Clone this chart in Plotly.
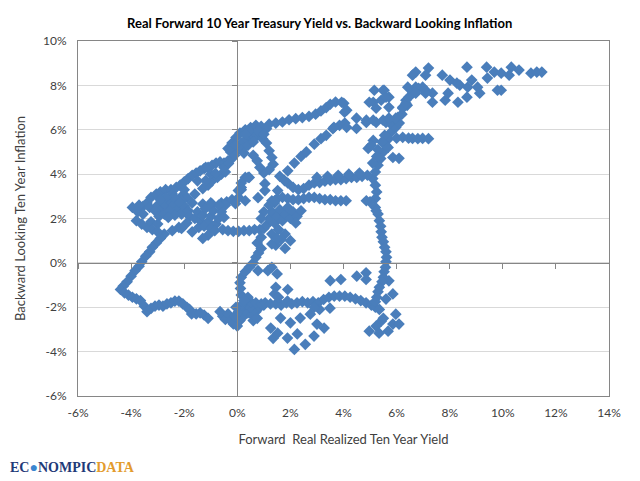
import plotly.graph_objects as go

# --- DATA (forward real yield %, backward looking inflation %) ---
LOW_LOOP = [
    (-2.75, 1.3), (-2.9, 1.1), (-3.05, 0.9), (-3.2, 0.7), (-3.3, 0.5), (-3.45, 0.3),
    (-3.6, 0.05), (-3.7, -0.15), (-3.85, -0.35), (-4.0, -0.6), (-4.15, -0.85),
    (-4.3, -1.05), (-4.4, -1.2), (-4.25, -1.35), (-4.1, -1.45), (-3.95, -1.55),
    (-3.8, -1.62), (-3.65, -1.7), (-3.5, -1.95), (-3.4, -2.2), (-3.25, -2.05),
    (-3.1, -1.95), (-2.95, -1.9), (-2.8, -1.95), (-2.65, -1.85), (-2.5, -1.8),
    (-2.35, -1.72), (-2.2, -1.72), (-2.05, -1.85), (-1.9, -2.0), (-1.8, -2.1),
    (-1.72, -2.3), (-1.55, -2.3), (-1.4, -2.25), (-1.25, -2.35), (-1.1, -2.5),
]

LOW_CLUSTER = [
    (-0.65, -2.2), (-0.55, -2.4), (-0.45, -2.55), (-0.35, -2.3), (-0.25, -2.6),
    (-0.15, -2.75), (0.0, -2.85), (0.1, -2.6), (0.2, -2.45), (-0.1, -2.4),
    (0.05, -2.2), (0.25, -2.1), (0.4, -2.25), (0.55, -2.35), (0.7, -2.2),
    (0.85, -2.0), (1.0, -1.9), (0.5, -2.0), (0.35, -1.85), (0.15, -1.9),
    (-0.05, -2.0), (0.6, -2.6), (0.75, -2.5), (1.26, -2.94), (1.52, -3.17),
    (1.89, -3.39), (2.26, -3.2), (2.15, -3.9), (2.56, -3.67), (2.89, -3.3),
    (2.37, -2.49), (2.75, -2.31), (3.0, -2.76), (3.27, -2.94), (3.49, -2.04),
    (1.63, -2.49), (1.89, -1.72), (2.0, -2.7), (1.35, -3.4),
]

LOW_BAND = [
    (0.5, -1.75), (0.7, -1.8), (0.9, -1.85), (1.05, -1.8), (1.25, -1.85),
    (1.45, -1.85), (1.65, -1.9), (1.85, -1.8), (2.05, -1.85), (2.25, -1.8),
    (2.45, -1.75), (2.65, -1.8), (2.85, -1.75), (3.05, -1.8), (3.25, -1.65),
    (3.45, -1.55), (3.65, -1.5), (3.85, -1.5), (4.05, -1.5), (4.25, -1.55),
    (4.45, -1.62), (4.65, -1.7), (4.85, -1.8), (5.05, -1.9), (5.2, -2.0),
    (5.35, -2.1), (3.5, -0.8), (3.9, -0.75), (4.5, -0.6), (4.85, -0.45),
    (4.85, -0.75), (3.1, -2.1), (2.9, -2.0),
]

RIGHT_LOW = [
    (5.42, -2.63), (5.23, -2.85), (4.97, -3.08), (5.34, -3.17), (5.68, -3.08),
    (5.86, -2.76), (6.09, -2.76), (5.97, -2.31), (5.6, -1.63), (5.86, -1.4),
    (5.71, -0.81), (5.5, -2.5),
]

RIGHT_COLUMN = [
    (5.1, 3.8), (5.2, 3.5), (5.25, 3.2), (5.2, 2.9), (5.0, 2.75), (5.2, 2.5),
    (5.3, 2.2), (5.35, 1.9), (5.4, 1.65), (5.42, 1.4), (5.45, 1.15), (5.5, 0.95),
    (5.55, 0.7), (5.6, 0.5), (5.62, 0.25), (5.6, 0.05), (5.58, -0.2), (5.53, -0.4),
    (5.5, -0.65), (5.45, -0.85), (5.35, -1.1), (5.3, -1.3), (5.25, -1.55),
    (5.2, -1.75), (4.86, 2.8), (5.23, 2.35),
]

MID_BAND = [
    (1.9, 3.6), (2.1, 3.4), (2.3, 3.3), (2.5, 3.35), (2.7, 3.5), (2.9, 3.6),
    (3.1, 3.62), (3.3, 3.68), (3.5, 3.72), (3.7, 3.75), (3.9, 3.75), (4.1, 3.8),
    (4.3, 3.85), (4.5, 3.85), (4.7, 3.9), (4.9, 3.95), (3.0, 3.85), (3.4, 3.9),
    (3.8, 3.95), (4.2, 4.0), (4.6, 4.05),
    (1.3, 2.8), (1.5, 2.9), (1.7, 2.95), (1.9, 2.9), (2.1, 2.85), (2.3, 2.85),
    (2.5, 2.9), (2.7, 2.95), (2.9, 2.95), (3.1, 2.9), (3.3, 2.85), (3.5, 2.85),
    (3.7, 2.8), (3.9, 2.8), (4.1, 2.8),
]

DIAGONAL = [
    (1.6, 3.9), (1.9, 4.15), (2.15, 4.5), (2.4, 4.8), (2.6, 5.0), (2.9, 5.35),
    (3.15, 5.6), (3.35, 5.75), (3.6, 6.05), (3.85, 6.2), (4.05, 6.3),
]

UPPER_BAND = [
    (1.2, 6.25), (1.45, 6.3), (1.7, 6.35), (1.95, 6.45), (2.2, 6.5), (2.45, 6.55),
    (2.7, 6.6), (2.95, 6.7), (3.15, 6.85), (3.35, 7.0), (3.5, 7.15), (3.7, 7.25),
    (3.93, 7.24), (4.04, 6.79),
]

TOP_BLOB = [
    (-0.35, 5.15), (-0.2, 5.4), (-0.05, 5.65), (0.1, 5.85), (0.3, 6.0), (0.5, 6.1),
    (0.7, 6.2), (0.9, 6.15), (1.1, 6.05), (0.15, 5.4), (0.35, 5.6), (0.55, 5.8),
    (0.75, 5.75), (0.95, 5.6), (1.1, 5.4), (0.0, 5.1), (0.2, 5.15), (0.4, 5.3),
    (0.6, 5.45), (0.25, 4.95), (1.2, 5.05), (1.3, 4.75), (1.35, 4.45), (1.2, 4.2),
    (1.0, 4.05), (0.85, 4.3), (0.75, 4.6), (0.6, 4.85), (-0.1, 5.3), (0.45, 5.95),
    (0.8, 5.95), (1.0, 5.8), (0.3, 5.8), (-0.25, 5.0),
]

UPPER_LEFT = [
    (-3.95, 2.5), (-3.75, 2.3), (-3.55, 2.55), (-3.4, 2.7), (-3.25, 2.95),
    (-3.05, 3.1), (-2.9, 3.2), (-2.7, 3.3), (-2.5, 3.3), (-2.3, 3.4), (-2.15, 3.5),
    (-2.0, 3.65), (-1.85, 3.8), (-1.7, 3.95), (-1.55, 4.05), (-1.4, 4.15),
    (-1.25, 4.25), (-1.1, 4.3), (-0.95, 4.4), (-0.8, 4.5), (-0.65, 4.55),
    (-0.5, 4.5), (-0.35, 4.6), (-0.2, 4.7), (-0.1, 4.85),
    (-2.45, 3.1), (-2.1, 3.0), (-1.9, 2.95), (-1.6, 3.1), (-1.3, 3.35),
    (-1.1, 3.5), (-0.95, 3.7), (-0.75, 3.85), (-0.6, 4.0), (-0.45, 4.1),
    (-2.1, 2.8), (-1.7, 2.7), (-1.3, 2.65), (-0.95, 2.65), (-0.6, 2.7),
    (-0.4, 2.75), (-0.2, 2.85), (0.05, 2.95), (0.15, 3.3), (0.15, 3.6),
    (0.3, 3.85), (0.45, 3.85), (-3.7, 2.6), (-3.3, 2.5), (-2.0, 3.3),
    (-1.5, 3.7), (-1.0, 4.0), (-0.5, 4.3),
]

LEFT_BLOB = [
    (-3.0, 2.6), (-2.85, 2.4), (-2.7, 2.6), (-2.55, 2.8), (-2.4, 2.6), (-2.25, 2.4),
    (-2.1, 2.2), (-2.0, 2.55), (-2.2, 2.75), (-2.4, 2.95), (-2.7, 2.95), (-2.9, 2.85),
    (-3.1, 2.35), (-2.95, 2.1), (-2.75, 2.2), (-2.55, 2.35), (-2.35, 2.15),
    (-2.6, 2.05), (-1.85, 2.35), (-1.8, 2.1), (-3.8, 1.9), (-3.55, 2.2),
    (-3.4, 1.6), (-3.6, 1.75), (-3.25, 1.85), (-3.0, 1.75), (-3.2, 1.5), (-3.0, 1.4),
]

MID_LEFT = [
    (-1.6, 2.0), (-1.5, 2.3), (-1.4, 1.9), (-1.3, 2.15), (-1.2, 2.45), (-1.1, 1.85),
    (-1.0, 2.1), (-0.9, 2.35), (-0.8, 1.75), (-0.7, 2.0), (-0.6, 2.3), (-0.5, 2.05),
    (-1.45, 1.6), (-1.25, 1.65), (-1.0, 1.55), (-1.1, 1.25), (-1.3, 1.1),
    (-0.85, 1.45), (-0.55, 1.5), (-0.35, 1.45), (-0.15, 1.42), (0.05, 1.42),
    (0.25, 1.45), (0.45, 1.45), (0.65, 1.5), (0.85, 1.5), (1.0, 1.55),
    (-1.9, 1.8), (-2.2, 1.6), (-1.7, 1.4), (-0.45, 2.6), (-0.7, 2.6), (-1.0, 2.7),
    (-2.45, 1.45), (-2.1, 1.55),
]

MID_RIGHT = [
    (1.1, 1.7), (1.2, 2.0), (1.3, 2.3), (1.4, 1.8), (1.5, 2.1), (1.6, 2.4),
    (1.7, 1.9), (1.8, 2.2), (1.9, 2.5), (2.0, 2.0), (2.1, 2.3), (2.25, 2.1),
    (2.4, 2.35), (1.2, 2.6), (1.4, 2.7), (1.0, 2.3), (0.9, 2.0), (1.55, 1.5),
    (1.8, 1.3), (1.3, 1.3), (2.2, 1.8), (1.65, 1.05), (1.45, 0.8), (1.8, 0.65),
    (2.0, 1.0), (0.15, 3.4), (0.41, 3.85), (1.04, 3.57), (1.04, 3.26), (0.78, 2.94),
    (1.52, 3.26), (1.78, 3.71), (1.41, 2.8), (-1.19, 4.3), (-0.82, 4.03),
    (-0.33, 4.48), (-1.19, 3.71), (0.04, 3.26), (-0.07, 2.67), (0.3, 2.8),
]

CENTER_COLUMN = [
    (0.15, -1.45), (0.12, -1.15), (0.1, -0.9), (0.15, -0.65), (0.3, -0.4),
    (0.45, -0.2), (0.6, 0.0), (0.7, 0.25), (0.8, 0.45), (0.9, 0.65), (0.75, 0.9),
    (0.9, 1.15), (0.78, -0.35), (1.15, -0.35), (1.3, -0.2), (1.5, -0.5),
    (1.45, -1.1), (1.9, -1.2), (1.4, -1.4), (1.55, -1.55), (1.3, 0.85),
    (1.5, 1.1), (0.4, -1.55), (0.25, -1.7),
]

STEM = [
    (5.9, 6.2), (5.8, 5.9), (5.7, 5.6), (5.6, 5.3), (5.5, 5.0), (5.4, 4.7),
    (5.3, 4.4), (5.2, 4.1), (5.86, 4.75), (6.09, 4.71), (5.68, 5.2),
    (6.0, 5.62), (6.23, 5.66), (6.45, 5.62), (6.6, 5.61), (6.8, 5.6), (6.98, 5.61),
    (7.2, 5.6), (5.12, 5.52), (4.93, 5.16), (5.05, 5.3),
    (5.97, 6.11), (6.05, 6.56), (6.23, 7.01), (6.35, 7.33), (6.6, 7.65),
    (6.83, 7.87), (7.09, 7.78), (7.35, 7.65), (5.75, 6.3), (5.55, 5.75),
    (5.45, 5.45), (5.3, 5.1), (5.25, 4.8), (5.1, 4.5), (6.1, 6.3), (6.2, 6.7),
    (6.4, 7.1),
]

TOP_RIGHT = [
    (6.72, 8.6), (7.2, 8.78), (7.09, 8.46), (6.6, 8.46), (7.72, 8.46), (8.01, 8.24),
    (8.27, 8.1), (8.38, 8.01), (8.65, 8.82), (8.83, 8.24), (8.68, 7.92), (9.05, 7.92),
    (9.13, 7.65), (8.65, 7.47), (9.39, 8.82), (9.42, 8.33), (9.68, 8.6), (9.94, 8.55),
    (10.32, 8.82), (10.61, 8.69), (10.24, 8.46), (9.8, 7.78), (9.94, 7.78),
    (11.06, 8.55), (11.28, 8.6), (11.47, 8.6), (7.94, 7.65), (7.83, 7.33),
    (8.31, 7.24), (7.35, 7.24), (7.09, 7.65), (6.98, 7.92), (6.72, 7.92),
    (6.42, 7.92), (5.71, 7.47), (5.53, 7.78), (5.16, 7.78), (5.12, 7.24),
    (5.42, 7.33), (5.71, 7.01), (4.01, 7.19), (4.12, 6.88), (4.49, 6.52),
    (4.86, 6.33), (5.23, 6.33), (5.6, 6.33), (5.97, 6.52), (6.23, 6.97),
    (6.35, 7.19), (6.46, 7.47), (6.72, 7.65), (3.64, 6.11), (4.12, 6.11),
    (4.49, 6.06), (4.86, 6.43), (5.12, 6.43), (5.49, 6.43), (5.71, 6.52),
    (5.49, 7.78), (4.97, 7.24), (5.6, 7.47), (5.23, 6.97),
]

SEGMENTS = [LOW_LOOP, LOW_CLUSTER, LOW_BAND, RIGHT_LOW, RIGHT_COLUMN, MID_BAND,
            DIAGONAL, UPPER_BAND, TOP_BLOB, UPPER_LEFT, LEFT_BLOB, MID_LEFT,
            MID_RIGHT, CENTER_COLUMN, STEM, TOP_RIGHT]

X_TICKS = [-6, -4, -2, 0, 2, 4, 6, 8, 10, 12, 14]
Y_TICKS = [-6, -4, -2, 0, 2, 4, 6, 8, 10]

# --- STYLE ---
BLUE = '#4A7EBB'
AXIS_GREY = '#868686'
FONT = 'Lato'

xs = [p[0] for seg in SEGMENTS for p in seg]
ys = [p[1] for seg in SEGMENTS for p in seg]

fig = go.Figure()
fig.add_trace(go.Scatter(
    x=xs, y=ys, mode='markers', showlegend=False,
    marker=dict(symbol='diamond', size=9, color=BLUE, line=dict(width=0)),
))
# empty trace so the zero-crossing axes get drawn
fig.add_trace(go.Scatter(x=[], y=[], xaxis='x2', yaxis='y2', showlegend=False))

# page body adds ~8px offset, margins are shifted to compensate
fig.update_layout(
    width=640, height=481,
    margin=dict(l=57, r=39, t=33, b=93),
    paper_bgcolor='white', plot_bgcolor='white',
    font=dict(family=FONT, size=12, color='#404040'),
    title=dict(text='<b>Real Forward 10 Year Treasury Yield vs. Backward Looking Inflation</b>',
               x=0.487, xanchor='center', y=0.968, yanchor='middle',
               font=dict(family=FONT, size=13, color='black')),
    xaxis=dict(range=[-6, 14], tickvals=X_TICKS, ticktext=[f'{v}%' for v in X_TICKS],
               showgrid=False, zeroline=False, showline=True, mirror=True,
               linecolor=AXIS_GREY, ticks='outside', ticklen=6, tickcolor='white',
               title=dict(text='Forward  Real Realized Ten Year Yield', standoff=15,
                          font=dict(size=13, color='#404040'))),
    yaxis=dict(range=[-6, 10], tickvals=Y_TICKS, ticktext=[f'{v}%' for v in Y_TICKS],
               showgrid=True, gridcolor='#D9D9D9', zeroline=False, showline=True,
               mirror=True, linecolor=AXIS_GREY, ticks='outside', ticklen=8,
               tickcolor='white',
               title=dict(text='Backward Looking Ten Year Inflation', standoff=14,
                          font=dict(size=13, color='#404040'))),
    xaxis2=dict(overlaying='x', anchor='free', position=0.375, range=[-6, 14],
                tickvals=X_TICKS, showticklabels=False, showgrid=False, zeroline=False,
                showline=True, linecolor=AXIS_GREY, ticks='outside', ticklen=5,
                tickcolor=AXIS_GREY),
    yaxis2=dict(overlaying='y', anchor='free', position=0.3, range=[-6, 10],
                tickvals=Y_TICKS, showticklabels=False, showgrid=False, zeroline=False,
                showline=True, linecolor=AXIS_GREY, ticks='outside', ticklen=5,
                tickcolor=AXIS_GREY),
    annotations=[dict(
        xref='paper', yref='paper', x=-0.132, y=-0.2, xanchor='left', yanchor='middle',
        showarrow=False,
        text=("<b><span style='color:#1F3A78'>EC</span>"
              "<span style='color:#3A86D0'>●</span>"
              "<span style='color:#1F3A78'>NOMPIC</span>"
              "<span style='color:#E39B2D'>DATA</span></b>"),
        font=dict(family='Liberation Serif', size=14),
    )],
)

fig.write_html("out.html")
